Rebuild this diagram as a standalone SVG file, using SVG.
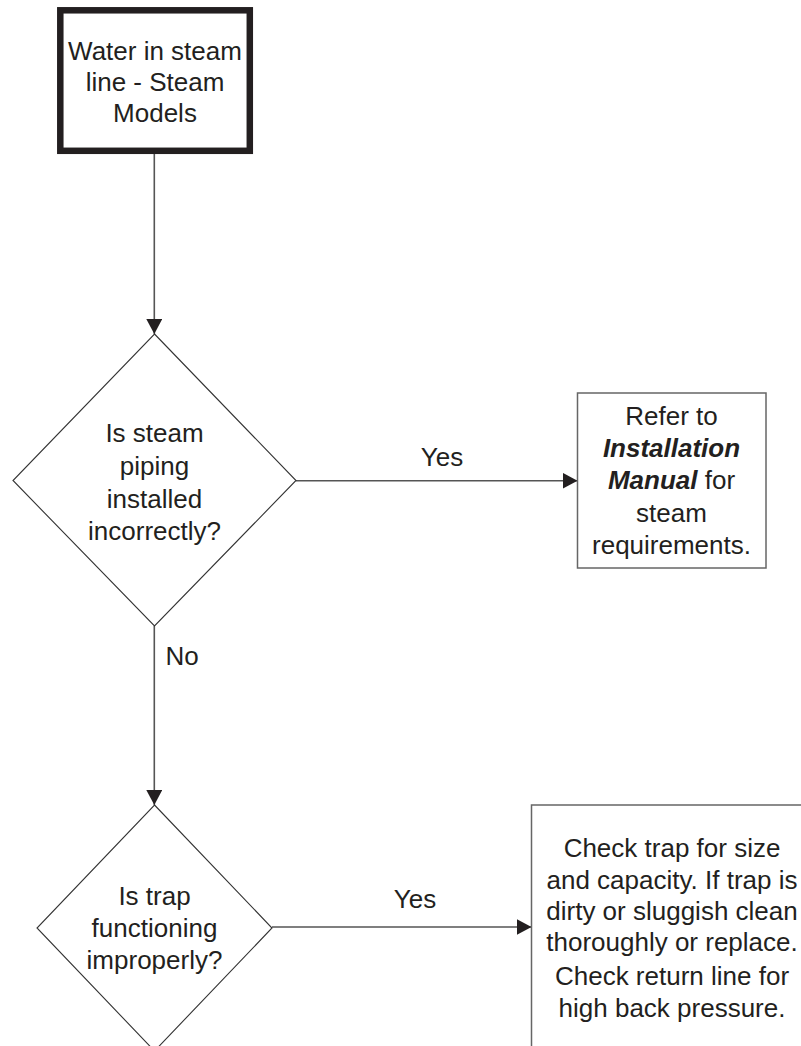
<svg xmlns="http://www.w3.org/2000/svg" width="801" height="1046" viewBox="0 0 801 1046">
  <style>
    text { font-family: "Liberation Sans", Arial, Helvetica, sans-serif; font-size: 26px; fill: #231f20; text-anchor: middle; }
    .dia { fill: #fff; stroke: #333; stroke-width: 1.1; }
    .box { fill: #fff; stroke: #666; stroke-width: 1.5; }
    .start { fill: #fff; stroke: #231f20; stroke-width: 6.5; }
    .conn { stroke: #555; stroke-width: 1.6; fill: none; }
    .bi { font-weight: bold; font-style: italic; }
  </style>
  <defs>
    <marker id="arr" viewBox="0 0 15 16" refX="15" refY="8" markerWidth="15" markerHeight="16" markerUnits="userSpaceOnUse" orient="auto">
      <path d="M0,0 L15,8 L0,16 Z" fill="#231f20"/>
    </marker>
  </defs>
  <rect width="801" height="1046" fill="#fff"/>

  <g id="connectors">
    <line class="conn" x1="154.3" y1="151" x2="154.3" y2="334" marker-end="url(#arr)"/>
    <line class="conn" x1="296" y1="480.7" x2="577.5" y2="480.7" marker-end="url(#arr)"/>
    <text x="442" y="466">Yes</text>
    <line class="conn" x1="154.3" y1="626" x2="154.3" y2="805" marker-end="url(#arr)"/>
    <text x="182" y="665">No</text>
    <line class="conn" x1="272" y1="927" x2="531.5" y2="927" marker-end="url(#arr)"/>
    <text x="415" y="908">Yes</text>
  </g>

  <g id="start">
    <rect class="start" x="60.3" y="10.3" width="189.5" height="140.5"/>
    <text x="155" y="59.5">Water in steam</text>
    <text x="155" y="91">line - Steam</text>
    <text x="155" y="122">Models</text>
  </g>

  <g id="decision1">
    <polygon class="dia" points="154.5,334 296,480.5 154.5,626 13,480.5"/>
    <text x="154.5" y="442">Is steam</text>
    <text x="154.5" y="475">piping</text>
    <text x="154.5" y="507.5">installed</text>
    <text x="154.5" y="540">incorrectly?</text>
  </g>

  <g id="manual">
    <rect class="box" x="577.5" y="393" width="188.5" height="175"/>
    <text x="671.5" y="425">Refer to</text>
    <text x="671.5" y="457" class="bi">Installation</text>
    <text x="671.5" y="489"><tspan class="bi">Manual</tspan> for</text>
    <text x="671.5" y="521.5">steam</text>
    <text x="671.5" y="554">requirements.</text>
  </g>

  <g id="decision2">
    <polygon class="dia" points="154.5,805 272,928 154.5,1051 37,928"/>
    <text x="154.5" y="905">Is trap</text>
    <text x="154.5" y="937">functioning</text>
    <text x="154.5" y="969">improperly?</text>
  </g>

  <g id="trap">
    <rect class="box" x="531.5" y="805" width="281" height="262"/>
    <text x="672" y="857">Check trap for size</text>
    <text x="672" y="888.5">and capacity. If trap is</text>
    <text x="672" y="920">dirty or sluggish clean</text>
    <text x="672" y="951">thoroughly or replace.</text>
    <text x="672" y="985">Check return line for</text>
    <text x="672" y="1016.5">high back pressure.</text>
  </g>
</svg>
